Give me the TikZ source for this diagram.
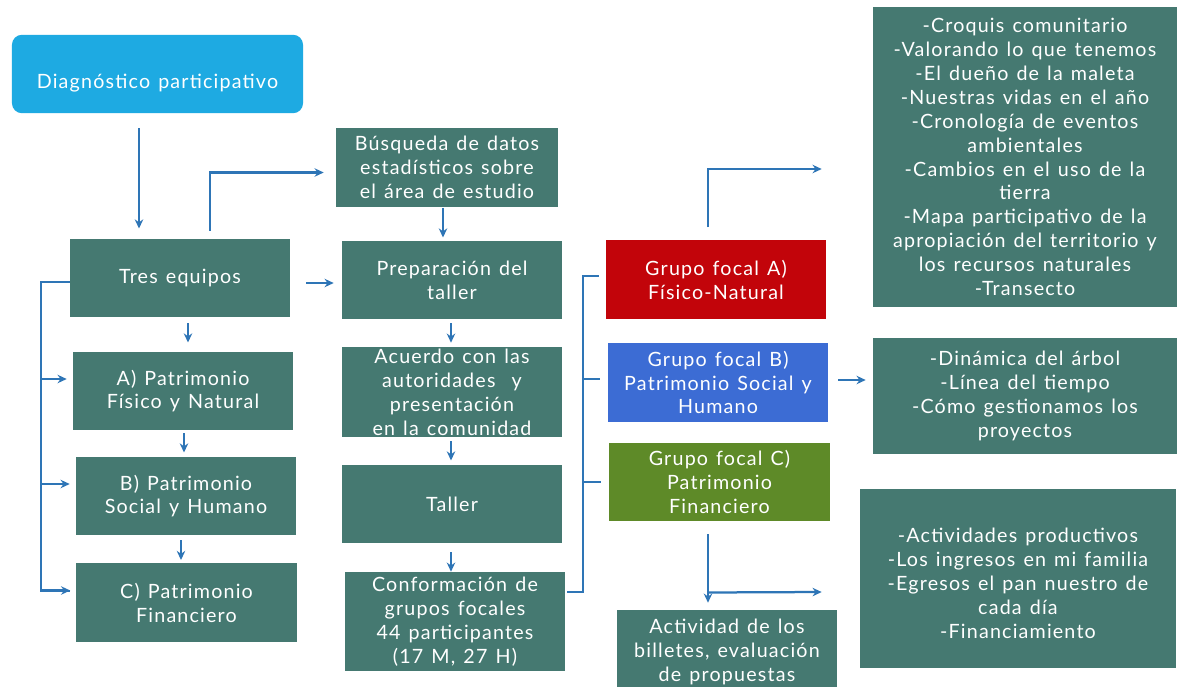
\documentclass[tikz,border=0pt]{standalone}
\usepackage{fontspec}
\setmainfont{Lato}[LetterSpace=6,WordSpace=1.3]
\usetikzlibrary{arrows.meta,positioning,calc}
\definecolor{boxteal}{RGB}{69,121,113}
\definecolor{diagcyan}{RGB}{30,170,226}
\definecolor{focalred}{RGB}{194,4,10}
\definecolor{focalblue}{RGB}{60,108,212}
\definecolor{focalgreen}{RGB}{94,138,40}
\definecolor{arrowblue}{RGB}{46,117,182}

\begin{document}
\begin{tikzpicture}[x=0.025cm,y=-0.025cm,
    box/.style={fill=boxteal, text=white, align=center, inner sep=0pt,
        minimum width=5.5cm, minimum height=1.96cm,
        font=\fontsize{14pt}{17pt}\selectfont},
    link/.style={draw=arrowblue, line width=1.6pt},
    arr/.style={link, -{Stealth[length=6.5pt,width=6pt]}}]

    \useasboundingbox (0,0) rectangle (1180,686);
    \clip (0,0) rectangle (1180,686);
    \fill[white] (0,0) rectangle (1180,686);

    % Start
    \node[box, fill=diagcyan, rounded corners=0.25cm, minimum width=7.275cm,
        text height=24pt, text depth=3pt] (diag) at (157.5,74) {Diagnóstico participativo};

    % Left column
    \node[box] (tres) at (180,278) {Tres equipos};
    \node[box] (pa) at (183,391) {A) Patrimonio\\Físico y Natural};
    \node[box] (pb) at (186,496) {B) Patrimonio\\Social y Humano};
    \node[box] (pc) at (186.5,602.5) {C) Patrimonio\\Financiero};

    % Middle column
    \node[box, minimum width=5.55cm] (bus) at (447,167.5) {Búsqueda de datos\\estadísticos sobre\\el área de estudio};
    \node[box] (prep) at (452,280) {Preparación del\\taller};
    \node[box, minimum height=2.25cm] (acu) at (452,392) {Acuerdo con las\\autoridades \ y\\presentación\\en la comunidad};
    \node[box] (taller) at (452,504) {Taller};
    \node[box, minimum height=2.475cm] (conf) at (455,621.5) {Conformación de\\grupos focales\\44 participantes\\(17 M, 27 H)};

    % Focal groups
    \node[box, fill=focalred] (ga) at (716,279.5) {Grupo focal A)\\Físico-Natural};
    \node[box, fill=focalblue] (gb) at (718,382.5) {Grupo focal B)\\Patrimonio Social y\\Humano};
    \node[box, fill=focalgreen] (gc) at (719.5,482) {Grupo focal C)\\Patrimonio\\Financiero};
    \node[box, minimum height=2.1cm] (act) at (727,652) {Actividad de los\\billetes, evaluación\\de propuestas};

    % Tools per group
    \node[box, minimum width=7.6cm, minimum height=7.5cm] (r1) at (1025,157) {-Croquis comunitario\\-Valorando lo que tenemos\\-El dueño de la maleta\\-Nuestras vidas en el año\\-Cronología de eventos\\ambientales\\-Cambios en el uso de la\\tierra\\-Mapa participativo de la\\apropiación del territorio y\\los recursos naturales\\-Transecto};
    \node[box, minimum width=7.6cm, minimum height=2.9cm] (r2) at (1025,396) {-Dinámica del árbol\\-Línea del tiempo\\-Cómo gestionamos los\\proyectos};
    \node[box, minimum width=7.9cm, minimum height=4.475cm] (r3) at (1018,578.5) {\mbox{}\\-Actividades productivos\\-Los ingresos en mi familia\\-Egresos el pan nuestro de\\cada día\\-Financiamiento};

    % Arrows, main flow
    \draw[arr] ($(diag.south)+(-18.5,15)$) -- ($(tres.north)+(-41,-10)$);
    \draw[arr] ($(tres.north)+(30,-8)$) |- ($(bus.west)+(-12,5)$);
    \draw[arr] ($(tres.east)+(16,5)$) -- ($(prep.west)+(-8,3)$);
    \draw[arr] ($(bus.south)+(-4,1)$) -- ($(prep.north)+(-9,-3)$);
    \foreach \a/\b in {prep/acu,acu/taller} {
        \draw[arr] ($(\a.south)+(-1,4)$) -- ($(\b.north)+(-1,-4)$);
    }
    \draw[arr] ($(taller.south)+(-1,9)$) -- ($(conf.north)+(-4,0)$);

    % Arrows, left column
    \draw[arr] ($(tres.south)+(8,6)$) -- ($(pa.north)+(5,-9)$);
    \draw[arr] ($(pa.south)+(1,3)$) -- ($(pb.north)+(-2,-4)$);
    \draw[arr] ($(pb.south)+(-5,5)$) -- ($(pc.north)+(-5.5,-3)$);

    % Left bracket
    \coordinate (lbar) at ($(tres.west)+(-29,4)$);
    \draw[link] ($(tres.west)+(0,4)$) -- (lbar) |- ($(pc.west)+(-6,-11.5)$);
    \foreach \b in {pa,pb,pc} {
        \draw[arr] ($(lbar |- \b.west)+(0,-12)$) -- ($(\b.west)+(-6,-12)$);
    }

    % Right bracket to focal groups
    \coordinate (rbar) at ($(ga.west)+(-23,-3.5)$);
    \draw[link] ($(conf.east)+(2,-29.5)$) -| (rbar) -- ($(ga.west)+(-7,-3.5)$);
    \foreach \g/\dy in {gb/-3.5,gc/0} {
        \draw[link] ($(rbar |- \g.west)+(0,\dy)$) -- ($(\g.west)+(-8,\dy)$);
    }

    % Arrows to tools
    \draw[arr] ($(ga.north)+(-8,-13)$) |- ($(r1.west)+(-51,12)$);
    \draw[arr] ($(gb.east)+(10,-2.5)$) -- ($(r2.west)+(-7,-16)$);
    \coordinate (gcfork) at ($(gc.south)+(-11.5,71)$);
    \draw[arr] ($(gc.south)+(-11.5,13)$) -- ($(act.north)+(-19,-7)$);
    \draw[arr] (gcfork) -- ($(r3.west)+(-38,13.5)$);
\end{tikzpicture}
\end{document}
